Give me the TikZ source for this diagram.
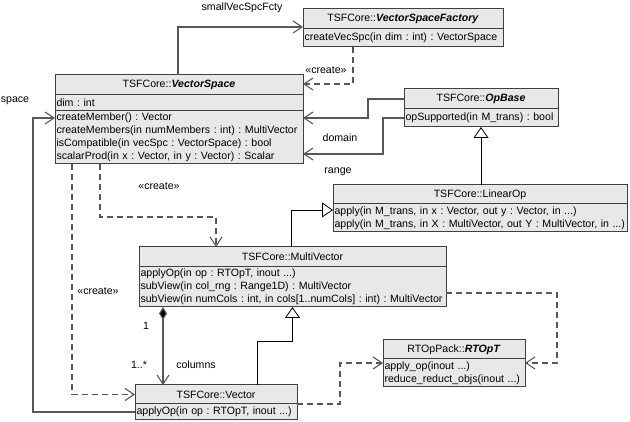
\documentclass[tikz,border=0pt]{standalone}
\usepackage{fontspec}
\setmainfont{Liberation Sans}
\usetikzlibrary{positioning,arrows.meta}
\definecolor{umlfill}{RGB}{232,232,232}
\definecolor{umlline}{RGB}{64,64,64}
\definecolor{linkgray}{RGB}{88,88,88}
\frenchspacing
\hyphenpenalty=10000

\begin{document}
\begin{tikzpicture}[x=1pt,y=-1pt,
  font=\fontsize{10.6}{13}\selectfont,
  classhead/.style={draw=umlline,line width=1pt,fill=umlfill,anchor=north west,
    inner sep=0pt,outer sep=0pt,minimum height=20pt},
  classbody/.style={draw=umlline,line width=1pt,fill=umlfill,anchor=north west,
    inner xsep=1.5pt,inner ysep=0pt,outer sep=0pt,align=left},
  assoc/.style={draw=linkgray,line width=1.1pt,-{Straight Barb[length=9pt,width=12pt]}},
  dep/.style={assoc,dash pattern=on 6pt off 4pt},
  inherit/.style={draw=black,line width=0.8pt,-{Triangle[open,length=11pt,width=15pt,fill=white]}},
  compo/.style={draw=linkgray,line width=1.1pt,
    {Diamond[length=13pt,width=8pt,fill=black]}-{Straight Barb[length=9pt,width=12pt]}},
  lbl/.style={inner sep=1pt}]
  \useasboundingbox (0,0) rectangle (630,422);

  % classes
  \node[classhead,minimum width=200pt] (fac) at (303,9) {TSFCore::\textbf{\textit{VectorSpaceFactory}}};
  \node[classbody,text width=197pt,minimum height=18pt] (facOps) at (fac.south west)
    {createVecSpc(in dim : int) : VectorSpace};

  \node[classhead,minimum width=248pt] (vs) at (55,75) {TSFCore::\textbf{\textit{VectorSpace}}};
  \node[classbody,text width=245pt,minimum height=16pt] (vsAttr) at (vs.south west) {dim : int};
  \node[classbody,text width=245pt,minimum height=53pt] (vsOps) at (vsAttr.south west)
    {createMember() : Vector\\
     createMembers(in numMembers : int) : MultiVector\\
     isCompatible(in vecSpc : VectorSpace) : bool\\
     scalarProd(in x : Vector, in y : Vector) : Scalar};

  \node[classhead,minimum width=154pt] (opb) at (404,89) {TSFCore::\textbf{\textit{OpBase}}};
  \node[classbody,text width=151pt,minimum height=18pt] (opbOps) at (opb.south west)
    {opSupported(in M\_trans) : bool};

  \node[classhead,minimum width=294pt,minimum height=19pt] (lop) at (333,185) {TSFCore::LinearOp};
  \node[classbody,text width=291pt,minimum height=28pt] (lopOps) at (lop.south west)
    {apply(in M\_trans, in x : Vector, out y : Vector, in ...)\\
     apply(in M\_trans, in X : MultiVector, out Y : MultiVector, in ...)};

  \node[classhead,minimum width=307pt] (mv) at (139,247) {TSFCore::MultiVector};
  \node[classbody,text width=304pt,minimum height=40pt] (mvOps) at (mv.south west)
    {applyOp(in op : RTOpT, inout ...)\\
     subView(in col\_rng : Range1D) : MultiVector\\
     subView(in numCols : int, in cols[1..numCols] : int) : MultiVector};

  \node[classhead,minimum width=162pt,minimum height=19pt] (vec) at (135,385) {TSFCore::Vector};
  \node[classbody,text width=159pt,minimum height=16pt] (vecOps) at (vec.south west)
    {applyOp(in op : RTOpT, inout ...)};

  \node[classhead,minimum width=142pt,minimum height=19pt] (rtop) at (383,340) {RTOpPack::\textbf{\textit{RTOpT}}};
  \node[classbody,text width=139pt,minimum height=28pt] (rtopOps) at (rtop.south west)
    {apply\_op(inout ...)\\
     reduce\_reduct\_objs(inout ...)};

  % links
  \draw[assoc] ([xshift=123pt]vs.north west) |- ([yshift=2pt]fac.south west);
  \draw[dep] ([xshift=50pt]facOps.south west) |- ([yshift=-9pt]vs.north east);
  \draw[assoc] (opb.west) -- ++(-36,0) |- ([yshift=-7pt]vsOps.north east);
  \draw[assoc] (opbOps.west) -- ++(-21,0) |- ([yshift=10pt]vsOps.south east);
  \draw[inherit] (lop.north -| opbOps.south) -- (opbOps.south);
  \draw[inherit] ([xshift=152pt]mv.north west) |- ([yshift=-6pt]lopOps.north west);
  \draw[dep] ([xshift=45pt]vsOps.south west) -- ++(0,53) -| ([xshift=77pt]mv.north west);
  \draw[dep] ([xshift=17pt]vsOps.south west) |- (vec.west);
  \draw[assoc] (vecOps.west) -- ++(-102,0) |- ([yshift=-7pt]vsOps.north west);
  \draw[compo] ([xshift=24pt]mvOps.south west) -- ([xshift=28pt]vec.north west);
  \draw[inherit] ([xshift=122pt]vec.north west) -- ++(0,-44) -| (mvOps.south);
  \draw[dep] (vec.south east) -- ++(43,0) |- ([yshift=-4pt]rtopOps.north west);
  \draw[dep] ([yshift=-6pt]mvOps.east) -- ++(111,0) |- ([yshift=-4pt]rtopOps.north east);

  % labels
  \node[lbl] (lblFcty) at (242,8) {smallVecSpcFcty};
  \node[lbl] (lblCreateF) at (326,70) {«create»};
  \node[lbl] (lblDomain) at (340,138) {domain};
  \node[lbl] (lblRange) at (338,172) {range};
  \node[lbl] (lblCreateMV) at (159,186) {«create»};
  \node[lbl] (lblCreateV) at (98,291) {«create»};
  \node[lbl] (lblSpace) at (15,101) {space};
  \node[lbl] (lblOne) at (146,326) {1};
  \node[lbl] (lblMany) at (139,365) {1..*};
  \node[lbl] (lblColumns) at (196,365) {columns};
\end{tikzpicture}
\end{document}
